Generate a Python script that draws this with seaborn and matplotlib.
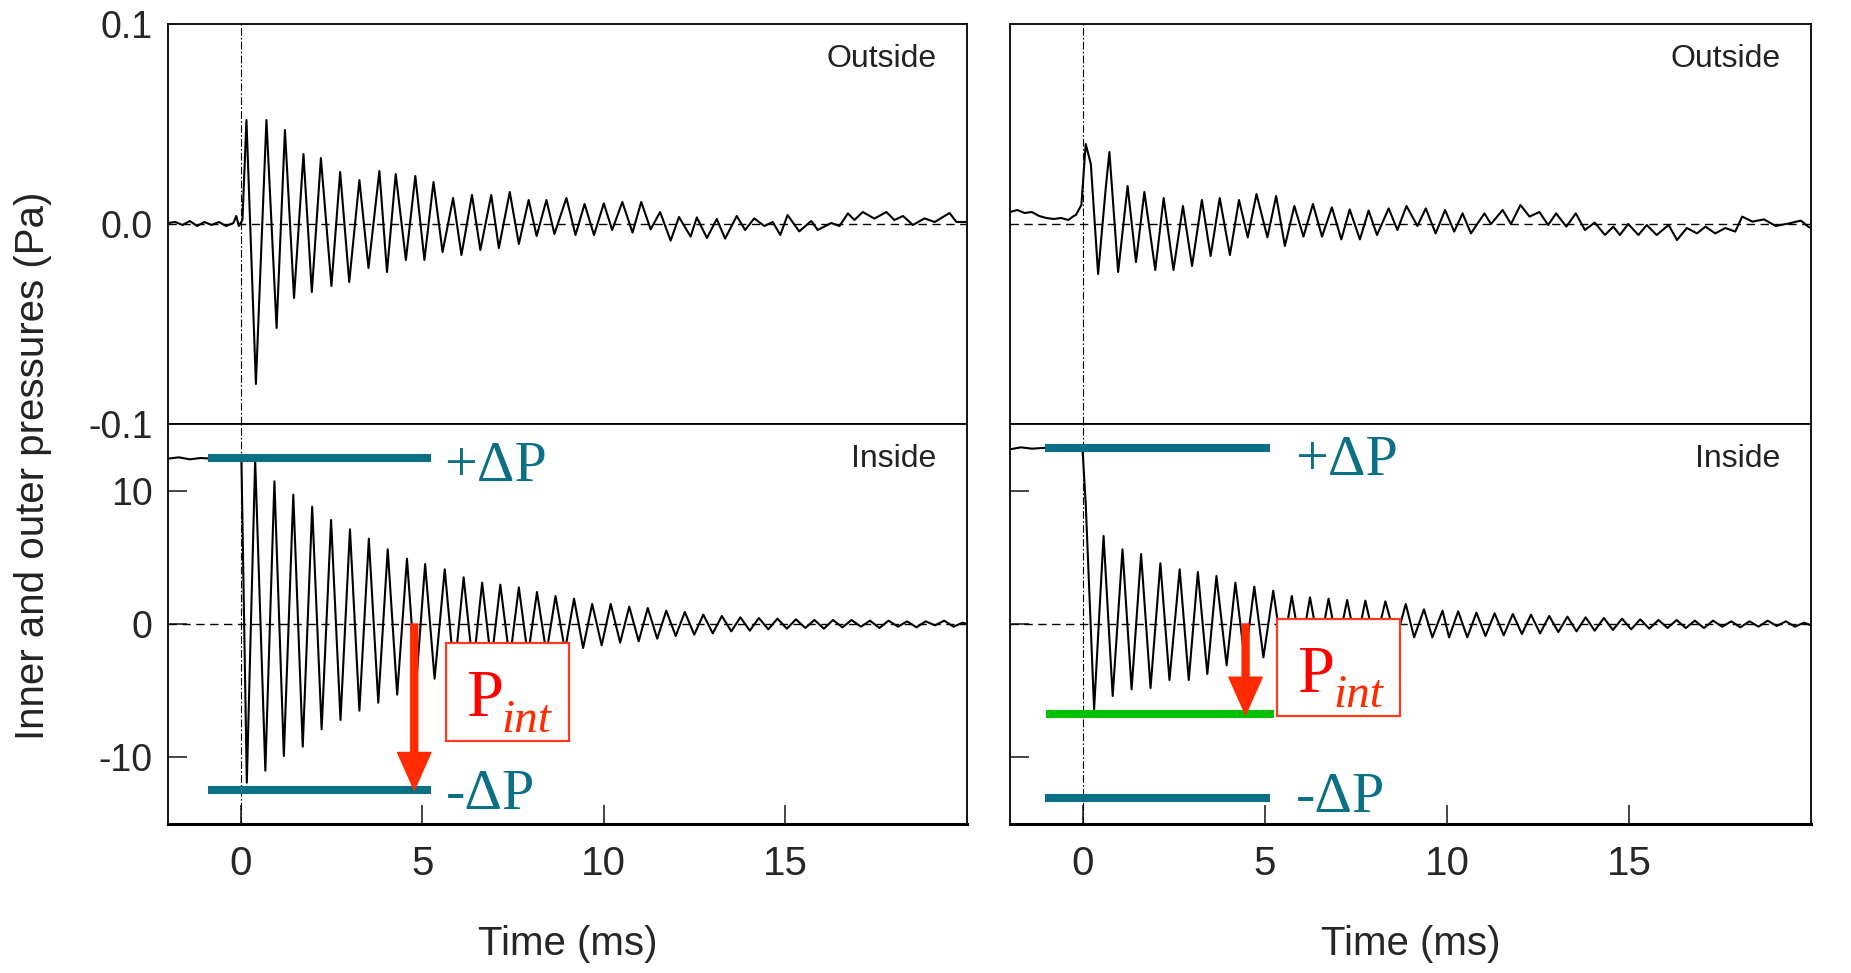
import numpy as np
import pandas as pd
import matplotlib
matplotlib.use('Agg')
import matplotlib.pyplot as plt
import seaborn as sns
from matplotlib import font_manager
from matplotlib.patches import FancyArrowPatch, Rectangle

# ---- data: (time in ms, pressure) at the turning points of each trace ----
outside_left = [
    (-2.0, 0.0005), (-1.8, 0.001), (-1.6, -0.0005), (-1.4, 0.0015), (-1.2, -0.001), (-1.0, 0.001),
    (-0.8, -0.0005), (-0.6, 0.001), (-0.4, -0.001), (-0.2, 0.0005), (-0.12, 0.004), (-0.05, -0.001),
    (0.05, 0.002), (0.16, 0.052), (0.42, -0.080), (0.71, 0.052), (0.99, -0.052), (1.22, 0.047),
    (1.47, -0.037), (1.73, 0.035), (1.96, -0.034), (2.21, 0.033), (2.50, -0.031), (2.74, 0.026),
    (2.99, -0.029), (3.27, 0.022), (3.52, -0.022), (3.82, 0.0265), (4.03, -0.024), (4.27, 0.025),
    (4.55, -0.018), (4.81, 0.024), (5.06, -0.018), (5.31, 0.021), (5.56, -0.014), (5.85, 0.013),
    (6.08, -0.0155), (6.37, 0.0145), (6.60, -0.013), (6.90, 0.0145), (7.11, -0.012), (7.41, 0.016),
    (7.66, -0.010), (7.93, 0.012), (8.15, -0.006), (8.42, 0.012), (8.64, -0.005), (8.97, 0.013),
    (9.22, -0.0055), (9.47, 0.010), (9.73, -0.0055), (10.0, 0.0103), (10.23, -0.003), (10.51, 0.011),
    (10.79, -0.0043), (11.03, 0.011), (11.29, -0.0027), (11.55, 0.006), (11.84, -0.0083), (12.07, 0.0035),
    (12.39, -0.0063), (12.56, 0.0033), (12.84, -0.007), (13.11, 0.0025), (13.34, -0.0073), (13.66, 0.004),
    (13.89, -0.003), (14.14, 0.0028), (14.42, -0.001), (14.65, 0.001), (14.86, -0.0055), (15.06, 0.0045),
    (15.38, -0.0037), (15.71, 0.0015), (15.89, -0.003), (16.26, 0.0005), (16.49, -0.001), (16.72, 0.0053),
    (16.90, 0.002), (17.13, 0.006), (17.45, 0.0027), (17.78, 0.006), (18.00, 0.002), (18.24, 0.004),
    (18.51, -0.0005), (18.83, 0.0028), (19.11, 0.001), (19.52, 0.0055), (19.71, 0.001), (19.98, 0.001),
]

outside_right = [
    (-2.0, 0.006), (-1.8, 0.007), (-1.6, 0.0055), (-1.4, 0.006), (-1.2, 0.004), (-1.0, 0.003),
    (-0.8, 0.0025), (-0.6, 0.003), (-0.4, 0.002), (-0.25, 0.004), (-0.19, 0.0045), (-0.04, 0.0095),
    (0.08, 0.040), (0.22, 0.030), (0.42, -0.025), (0.63, 0.018), (0.73, 0.036), (0.97, -0.024),
    (1.23, 0.019), (1.46, -0.019), (1.69, 0.016), (1.99, -0.023), (2.22, 0.013), (2.49, -0.023),
    (2.75, 0.009), (3.00, -0.021), (3.27, 0.012), (3.51, -0.016), (3.76, 0.013), (4.04, -0.0155),
    (4.29, 0.012), (4.53, -0.0067), (4.77, 0.015), (5.07, -0.0067), (5.31, 0.014), (5.55, -0.011),
    (5.81, 0.009), (6.06, -0.0063), (6.32, 0.010), (6.57, -0.0063), (6.84, 0.0083), (7.10, -0.0077),
    (7.33, 0.0073), (7.61, -0.0077), (7.85, 0.0067), (8.08, -0.0055), (8.40, 0.0078), (8.64, -0.003),
    (8.89, 0.009), (9.19, -0.001), (9.42, 0.0078), (9.69, -0.0047), (9.95, 0.007), (10.2, -0.0038),
    (10.43, 0.0053), (10.66, -0.0047), (11.03, 0.0053), (11.21, 0.0), (11.53, 0.007), (11.76, 0.0),
    (12.02, 0.0095), (12.27, 0.0037), (12.54, 0.006), (12.78, -0.0005), (13.0, 0.0053), (13.28, -0.0013),
    (13.54, 0.0053), (13.79, -0.003), (14.06, 0.0007), (14.34, -0.0055), (14.57, -0.0013), (14.75, -0.0055),
    (14.98, 0.0), (15.26, -0.0055), (15.49, -0.0005), (15.76, -0.0055), (16.09, -0.0005), (16.32, -0.008),
    (16.59, -0.002), (16.87, -0.0047), (17.1, -0.0013), (17.37, -0.0047), (17.65, -0.002), (17.92, -0.0038),
    (18.11, 0.0037), (18.39, 0.0012), (18.71, 0.0023), (19.03, -0.001), (19.4, 0.0003), (19.72, 0.0017),
    (19.95, -0.0017),
]

inside_left = [
    (-2.0, 12.4), (-1.7, 12.5), (-1.4, 12.35), (-1.1, 12.45), (-0.8, 12.4), (-0.5, 12.5), (-0.2, 12.4),
    (0.02, 12.6), (0.17, -11.9), (0.40, 12.3), (0.68, -11.0), (0.93, 10.7), (1.19, -9.9), (1.45, 9.7),
    (1.71, -9.2), (1.97, 8.8), (2.23, -7.9), (2.49, 7.8), (2.75, -7.2), (3.01, 7.1), (3.27, -6.5),
    (3.53, 6.4), (3.79, -5.9), (4.05, 5.6), (4.31, -5.3), (4.58, 4.9), (4.83, -4.6), (5.08, 4.5),
    (5.34, -4.1), (5.62, 4.1), (5.88, -3.7), (6.14, 3.5), (6.40, -3.3), (6.65, 3.1), (6.90, -2.9),
    (7.15, 2.95), (7.41, -2.7), (7.66, 2.75), (7.91, -2.4), (8.16, 2.4), (8.42, -2.2), (8.67, 2.1),
    (8.93, -2.0), (9.18, 1.9), (9.43, -1.8), (9.68, 1.5), (9.94, -1.6), (10.19, 1.5), (10.45, -1.4),
    (10.70, 1.3), (10.96, -1.3), (11.21, 1.2), (11.47, -1.1), (11.72, 1.0), (11.98, -0.9), (12.23, 0.9),
    (12.49, -0.8), (12.74, 0.7), (13.00, -0.7), (13.25, 0.6), (13.51, -0.55), (13.76, 0.5), (14.02, -0.5),
    (14.27, 0.45), (14.53, -0.4), (14.78, 0.4), (15.04, -0.35), (15.29, 0.35), (15.55, -0.3), (15.80, 0.3),
    (16.06, -0.35), (16.31, 0.3), (16.57, -0.25), (16.82, 0.3), (17.08, -0.2), (17.33, 0.25), (17.59, -0.3),
    (17.84, 0.25), (18.10, -0.2), (18.35, 0.2), (18.61, -0.25), (18.86, 0.2), (19.12, -0.1), (19.37, 0.25),
    (19.63, -0.2), (19.88, 0.1), (20.0, 0.0),
]

inside_right = [
    (-2.0, 13.1), (-1.7, 13.25), (-1.4, 13.15), (-1.1, 13.2), (-0.8, 13.25), (-0.5, 13.2), (-0.2, 13.2),
    (-0.01, 13.2), (0.08, 9.0), (0.31, -6.4), (0.57, 6.6), (0.82, -5.4), (1.09, 5.6), (1.34, -4.9),
    (1.60, 5.25), (1.86, -4.8), (2.13, 4.55), (2.38, -4.2), (2.66, 4.1), (2.91, -4.2), (3.16, 3.9),
    (3.42, -3.75), (3.67, 3.6), (3.95, -3.1), (4.19, 3.1), (4.45, -2.75), (4.71, 2.8), (4.96, -2.5),
    (5.23, 2.5), (5.48, -2.2), (5.74, 2.1), (5.99, -2.0), (6.24, 2.0), (6.50, -1.9), (6.75, 1.9),
    (7.00, -1.7), (7.26, 1.8), (7.51, -1.6), (7.76, 1.75), (8.03, -1.5), (8.31, 1.7), (8.60, -1.2),
    (8.87, 1.5), (9.10, -1.0), (9.37, 1.1), (9.60, -1.0), (9.88, 1.0), (10.06, -1.0), (10.31, 0.95),
    (10.56, -1.0), (10.81, 0.85), (11.06, -0.9), (11.31, 0.8), (11.56, -0.85), (11.81, 0.75), (12.06, -0.75),
    (12.31, 0.7), (12.56, -0.7), (12.81, 0.6), (13.06, -0.6), (13.31, 0.55), (13.56, -0.55), (13.81, 0.5),
    (14.06, -0.5), (14.31, 0.45), (14.56, -0.45), (14.81, 0.4), (15.06, -0.4), (15.31, 0.35), (15.56, -0.35),
    (15.81, 0.3), (16.06, -0.3), (16.31, 0.3), (16.56, -0.3), (16.81, 0.25), (17.06, -0.3), (17.31, 0.25),
    (17.56, -0.2), (17.81, 0.2), (18.06, -0.25), (18.31, 0.2), (18.56, -0.2), (18.81, 0.25), (19.06, -0.15),
    (19.31, 0.2), (19.56, -0.2), (19.81, 0.1), (20.0, -0.1),
]

# annotation levels (Pa) and where the arrows sit (ms)
dp_left = 12.45
dp_right_plus = 13.2
dp_right_minus = -13.07
pint_right = -6.75
arrow_t_left = 4.78
arrow_t_right = 4.47

x_ticks = [0, 5, 10, 15]
out_yticks = [-0.1, 0.0, 0.1]
out_ylabels = ['-0.1', '0.0', '0.1']
in_yticks = [-10, 0, 10]
in_ylabels = ['-10', '0', '10']

TEAL = '#0b6f86'
RED = '#ff2a00'
GREEN = '#00c000'

sns.set_theme(style='white')
plt.rcParams['font.family'] = ['Liberation Sans', 'DejaVu Sans']
names = {f.name for f in font_manager.fontManager.ttflist}
narrow = 'Liberation Sans Narrow' if 'Liberation Sans Narrow' in names else 'Liberation Sans'
xtick_size = 32 if narrow == 'Liberation Sans Narrow' else 29

W, H = 1851, 973
fig = plt.figure(figsize=(W / 100, H / 100), dpi=100)
fig.patch.set_facecolor('white')


def px_axes(x0, y0, x1, y1):
    return fig.add_axes([x0 / W, 1 - y1 / H, (x1 - x0) / W, (y1 - y0) / H])


cols = [(168, 967), (1010, 1811)]
ax_out_l = px_axes(cols[0][0], 24, cols[0][1], 424)
ax_in_l = px_axes(cols[0][0], 424, cols[0][1], 824)
ax_out_r = px_axes(cols[1][0], 24, cols[1][1], 424)
ax_in_r = px_axes(cols[1][0], 424, cols[1][1], 824)

traces = [(ax_out_l, outside_left, (-0.1, 0.1), 'Outside'),
          (ax_in_l, inside_left, (-15, 15), 'Inside'),
          (ax_out_r, outside_right, (-0.1, 0.1), 'Outside'),
          (ax_in_r, inside_right, (-15, 15), 'Inside')]

for ax, pts, ylim, tag in traces:
    df = pd.DataFrame(pts, columns=['t', 'p'])
    ax.axhline(0, color='black', lw=1.0, dashes=(6, 4), zorder=1)
    ax.axvline(0, color='black', lw=0.8, dashes=(7, 2, 1.5, 2), zorder=1)
    sns.lineplot(data=df, x='t', y='p', ax=ax, color='black', linewidth=1.5,
                 estimator=None, sort=False, legend=False, zorder=2)
    ax.set_xlim(-2, 20)
    ax.set_ylim(*ylim)
    ax.set_xlabel('')
    ax.set_ylabel('')
    for sp in ax.spines.values():
        sp.set_linewidth(1.3)
        sp.set_color('black')
    ax.text(0.962, 0.9125, tag, transform=ax.transAxes, ha='right', va='center',
            fontsize=23, color='#222222')

# top panels: no x ticks
for ax in (ax_out_l, ax_out_r):
    ax.set_xticks([])
ax_out_l.set_yticks(out_yticks)
ax_out_l.set_yticklabels(out_ylabels)
ax_out_l.tick_params(axis='y', left=True, length=0, pad=11, labelsize=27)
ax_out_r.set_yticks([])

# bottom panels
for ax in (ax_in_l, ax_in_r):
    ax.set_xticks(x_ticks)
    ax.set_xticklabels([str(v) for v in x_ticks], fontfamily=narrow, fontsize=xtick_size)
    ax.tick_params(axis='x', bottom=True, direction='in', length=14, width=1.2, pad=15)
    ax.set_yticks(in_yticks)
    ax.tick_params(axis='y', left=True, direction='in', length=14, width=1.2, pad=11, labelsize=27)
    ax.spines['bottom'].set_linewidth(2.2)
    ax.set_xlabel('Time (ms)', fontfamily=narrow, fontsize=xtick_size, labelpad=30)
ax_in_l.set_yticklabels(in_ylabels)
ax_in_r.tick_params(axis='y', labelleft=False)

fig.text(33 / W, 1 - 466 / H, 'Inner and outer pressures (Pa)', rotation=90,
         ha='center', va='center', fontsize=29, color='#222222')

serif = ['Liberation Serif', 'DejaVu Serif']


def add_arrow(ax, t, y0, y1):
    arr = FancyArrowPatch((t, y0), (t, y1),
                          arrowstyle='simple,head_length=27,head_width=24,tail_width=5',
                          mutation_scale=1, shrinkA=0, shrinkB=0, color=RED, zorder=6)
    ax.add_patch(arr)


def add_pint(ax, box, p_xy, int_xy):
    t0, t1, v_top, v_bot = box
    ax.add_patch(Rectangle((t0, v_bot), t1 - t0, v_top - v_bot, facecolor='white',
                           edgecolor='#ff3b1f', lw=1.6, zorder=5))
    ax.text(*p_xy, 'P', fontfamily=serif, fontsize=48, color='#ff0000',
            ha='left', va='baseline', zorder=7)
    ax.text(*int_xy, 'int', fontfamily=serif, fontstyle='italic', fontsize=34, color=RED,
            ha='left', va='baseline', zorder=7)


dp_kw = dict(fontfamily=serif, fontsize=42, color=TEAL, ha='left', va='baseline', zorder=7)

# left inside annotations
ax_in_l.hlines([dp_left, -dp_left], -0.9, 5.25, color=TEAL, lw=5.8, zorder=4)
ax_in_l.text(5.6, 10.74, '+ΔP', **dp_kw)
ax_in_l.text(5.65, -13.87, '-ΔP', **dp_kw)
add_arrow(ax_in_l, arrow_t_left, 0, -dp_left)
add_pint(ax_in_l, (5.66, 9.03, -1.40, -8.75), (6.2, -6.87), (7.19, -8.13))

# right inside annotations
ax_in_r.hlines([dp_right_plus, dp_right_minus], -1.04, 5.14, color=TEAL, lw=5.8, zorder=4)
ax_in_r.hlines([pint_right], -1.0, 5.25, color=GREEN, lw=5.8, zorder=4)
ax_in_r.text(5.82, 11.19, '+ΔP', **dp_kw)
ax_in_r.text(5.85, -14.12, '-ΔP', **dp_kw)
add_arrow(ax_in_r, arrow_t_right, 0, pint_right - 0.05)
add_pint(ax_in_r, (5.34, 8.71, 0.40, -6.93), (5.88, -5.13), (6.88, -6.25))

fig.savefig('out.png', dpi=100, facecolor='white')
